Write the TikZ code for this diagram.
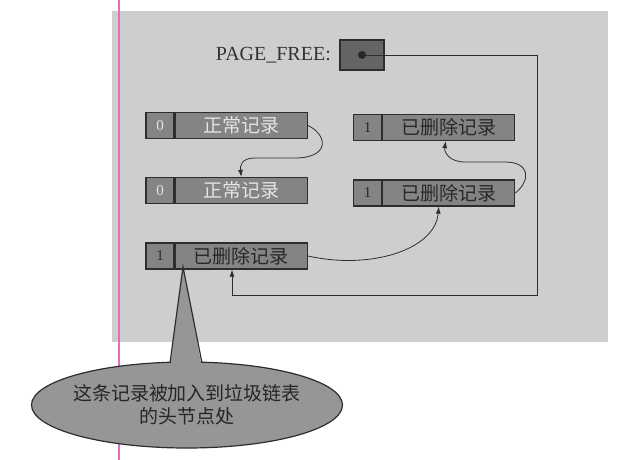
\documentclass[tikz,border=0pt]{standalone}
\usepackage{fontspec}
\setmainfont{Liberation Serif}
\newfontfamily\cjk{Noto Sans CJK SC}
\usepackage{xcolor}
\usetikzlibrary{positioning,shapes.geometric,arrows.meta}

\definecolor{paper}{RGB}{206,206,206}
\definecolor{edge}{RGB}{45,45,45}
\definecolor{boxfill}{RGB}{132,132,132}
\definecolor{boxtext}{RGB}{228,228,228}
\definecolor{deltext}{RGB}{40,40,40}
\definecolor{pffill}{RGB}{100,100,100}
\definecolor{notefill}{RGB}{150,150,150}
\definecolor{pinkline}{RGB}{225,110,195}

\begin{document}
\begin{tikzpicture}[x=1pt, y=-1pt,
    flag/.style={draw=edge, fill=boxfill, line width=1.3pt, minimum width=28pt, minimum height=26pt, inner sep=0pt, font=\fontsize{15}{15}\selectfont},
    rec/.style={draw=edge, fill=boxfill, line width=1.3pt, minimum width=132pt, minimum height=26pt, inner sep=0pt, font=\cjk\fontsize{19}{19}\selectfont},
    live/.style={text=boxtext},
    dead/.style={text=deltext},
    link/.style={-{Latex[length=7pt,width=5pt]}, line width=0.8pt, draw=edge}]
    \useasboundingbox (0,0) rectangle (619,460);
    % page background and margin line
    \fill[paper] (112,11) rectangle (608,342);
    \draw[pinkline, line width=1.3pt] (119,0) -- (119,460);

    % free list head
    \node[draw=edge, fill=pffill, line width=1.3pt, minimum width=44pt, minimum height=30pt] (pf) at (362,55) {};
    \fill[black!85] (pf.center) circle (4pt);
    \node[left=5pt of pf, font=\fontsize{20}{20}\selectfont, text=black!80] (pflabel) {PAGE\_FREE:};

    % records, left column
    \node[flag, live] (f1) at (160,125.5) {0};
    \node[rec, live, right=0pt of f1] (r1) {正常记录};
    \node[flag, live] (f2) at (160,190.5) {0};
    \node[rec, live, right=0pt of f2] (r2) {正常记录};
    \node[flag, dead] (f3) at (160,256) {1};
    \node[rec, dead, right=0pt of f3] (r3) {已删除记录};
    % records, right column
    \node[flag, dead] (f5) at (367.5,127.5) {1};
    \node[rec, dead, right=0pt of f5] (r5) {已删除记录};
    \node[flag, dead] (f4) at (367.5,193) {1};
    \node[rec, dead, right=0pt of f4] (r4) {已删除记录};

    % next pointers
    \draw[link] (r1.east) .. controls (328,135) and (330,158) .. (295,158) -- (255,158)
        .. controls (241,158) and (240,166) .. (r2.north);
    \draw[link] (r3.east) .. controls (370,270) and (435,250) .. ([xshift=-10pt]r4.south);
    \draw[link] (r4.east) .. controls (531,180) and (530,162) .. (505,162) -- (465,162)
        .. controls (449,162) and (444,152) .. ([xshift=-3pt]r5.south);
    \coordinate (turn1) at (537,55);
    \coordinate (turn2) at (232,295);
    \draw[link] (pf.center) -- (turn1) |- (turn2) -- (turn2 |- r3.south);

    % callout
    \node[ellipse, draw=edge, fill=notefill, line width=1.2pt, minimum width=311pt, minimum height=86pt, inner sep=0pt] (note) at (187,405) {};
    \coordinate (tip) at (183,267);
    \fill[notefill] (170,368) -- (tip) -- (202,368) -- cycle;
    \draw[edge, line width=1.2pt] (170,363) -- (tip) -- (202,363);
    \node[align=center, font=\cjk\fontsize{19}{23}\selectfont, text=black!85] (notetext) at (note.center) {这条记录被加入到垃圾链表\\的头节点处};
\end{tikzpicture}
\end{document}
